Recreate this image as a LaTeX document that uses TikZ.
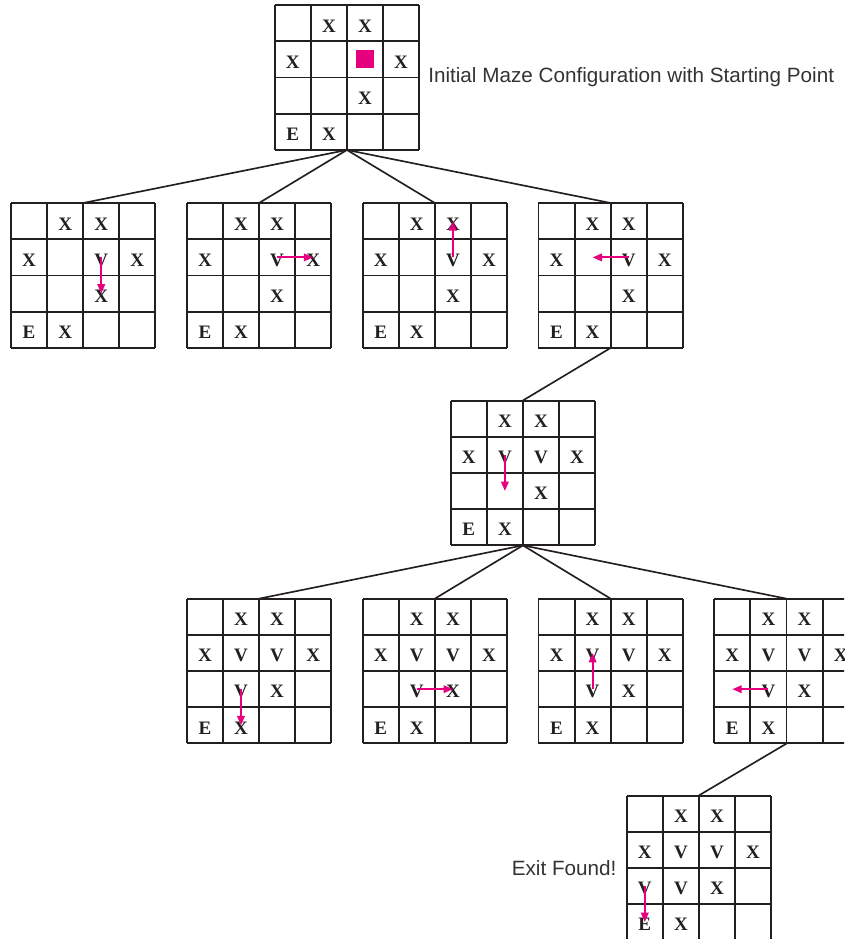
\documentclass[tikz,border=0pt]{standalone}
\usepackage{fontspec}
\setmainfont{Liberation Serif}
\setsansfont{Liberation Sans}
\usetikzlibrary{arrows.meta,positioning}
\definecolor{mazepink}{HTML}{E6007E}
\definecolor{mazeink}{HTML}{231F20}

% one 4x4 maze: name, top-left corner, extra visited cells
\newcommand{\maze}[3]{%
  \begin{scope}[shift={(#2)}]
    \draw[gridline] (0,0) grid (4,-4);
    \node[mazebox] (#1) at (2,-2) {};
    \foreach \c in {1,...,4}
      \foreach \r in {1,...,4}
        \coordinate (#1-\c-\r) at (\c-0.5,0.5-\r);
    \foreach \c/\r/\t in {2/1/X,3/1/X,1/2/X,4/2/X,3/3/X,1/4/E,2/4/X#3}
      \node[cellmark] (#1-m-\c-\r) at (#1-\c-\r) {\t};
  \end{scope}}

\begin{document}
\begin{tikzpicture}[
    gridline/.style={line width=1.5pt, draw=mazeink},
    mazebox/.style={minimum size=4cm, inner sep=0pt},
    cellmark/.style={font=\fontsize{15}{15}\selectfont\bfseries, text=mazeink, inner sep=0pt, yshift=-0.07cm},
    link/.style={line width=1.3pt, draw=mazeink},
    move/.style={-{Triangle[length=0.26cm,width=0.21cm]}, line width=1.5pt, draw=mazepink},
    startsq/.style={fill=mazepink, minimum size=0.5cm, inner sep=0pt},
    caption/.style={font=\sffamily\fontsize{16.3}{16.3}\selectfont, text=black!80, inner sep=0pt},
]
\clip (0,0) rectangle (23.38,-26.01);

% level 0
\maze{top}{7.61,-0.147}{}
\node[startsq] (start) at (top-3-2) {};
\node[caption, right=0.24cm of top] (initlbl) {Initial Maze Configuration with Starting Point};

% level 1
\maze{la}{0.305,-5.63}{,3/2/V}
\maze{lb}{5.175,-5.63}{,3/2/V}
\maze{lc}{10.045,-5.63}{,3/2/V}
\maze{ld}{14.915,-5.63}{,3/2/V}

% level 2
\maze{ma}{12.485,-11.10}{,2/2/V,3/2/V}

% level 3
\maze{na}{5.175,-16.59}{,2/2/V,3/2/V,2/3/V}
\maze{nb}{10.045,-16.59}{,2/2/V,3/2/V,2/3/V}
\maze{nc}{14.915,-16.59}{,2/2/V,3/2/V,2/3/V}
\maze{nd}{19.785,-16.59}{,2/2/V,3/2/V,2/3/V}

% level 4
\maze{oa}{17.36,-22.04}{,2/2/V,3/2/V,2/3/V,1/3/V}
\node[caption, left=0.27cm of oa] (exitlbl) {Exit Found!};

% tree links
\foreach \k in {la,lb,lc,ld}
  \draw[link] (top.south) -- (\k.north);
\draw[link] (ld.south) -- (ma.north);
\foreach \k in {na,nb,nc,nd}
  \draw[link] (ma.south) -- (\k.north);
\draw[link] (nd.south) -- (oa.north);

% moves
\draw[move] (la-3-2) -- (la-3-3);
\draw[move] (lb-3-2) -- (lb-4-2);
\draw[move] (lc-3-2) -- (lc-3-1);
\draw[move] (ld-3-2) -- (ld-2-2);
\draw[move] (ma-2-2) -- (ma-2-3);
\draw[move] (na-2-3) -- (na-2-4);
\draw[move] (nb-2-3) -- (nb-3-3);
\draw[move] (nc-2-3) -- (nc-2-2);
\draw[move] (nd-2-3) -- (nd-1-3);
\draw[move] (oa-1-3) -- (oa-1-4);
\end{tikzpicture}
\end{document}
